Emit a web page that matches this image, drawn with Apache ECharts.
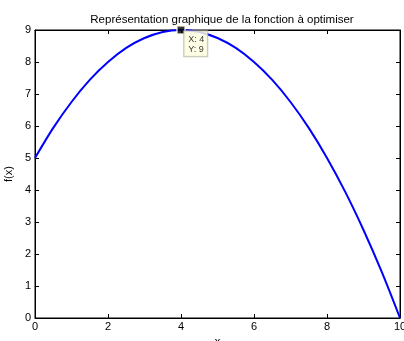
<!DOCTYPE html>
<html>
<head>
<meta charset="utf-8">
<script src="https://cdn.jsdelivr.net/npm/echarts@6/dist/echarts.min.js"></script>
<style>
  html, body { margin: 0; padding: 0; background: #fff; }
  #chart { width: 404px; height: 341px; }
</style>
</head>
<body>
<div id="chart"></div>
<script>
// Sampled values of f(x) on [0, 10]
const xValues = [0, 0.5, 1, 1.5, 2, 2.5, 3, 3.5, 4, 4.5, 5, 5.5, 6, 6.5, 7, 7.5, 8, 8.5, 9, 9.5, 10];
const fValues = [5, 5.94, 6.75, 7.44, 8, 8.44, 8.75, 8.94, 9, 8.94, 8.75, 8.44, 8, 7.44, 6.75, 5.94, 5, 3.94, 2.75, 1.44, 0];

// Highlighted maximum
const peakX = 4;
const peakY = 9;

const titleText = 'Représentation graphique de la fonction à optimiser';
const xName = 'x';
const yName = 'f(x)';

const font = 'Liberation Sans, Arial, Helvetica, sans-serif';

const chart = echarts.init(document.getElementById('chart'), null, { renderer: 'canvas' });

const curve = xValues.map((x, i) => [x, fValues[i]]);

const tickStyle = { show: true, inside: true, length: 4, lineStyle: { color: '#000', width: 1 } };
const lineStyle = { show: true, onZero: false, lineStyle: { color: '#000', width: 1 } };

chart.setOption({
  animation: false,
  backgroundColor: '#fff',
  title: {
    text: titleText,
    left: 217,
    top: 9,
    textAlign: 'center',
    textStyle: { fontFamily: font, fontSize: 11.5, fontWeight: 'normal', color: '#000' }
  },
  grid: {
    left: 35, right: 4, top: 30, bottom: 23,
    containLabel: false,
    outerBoundsMode: 'none',
    show: true, borderColor: '#000', borderWidth: 1, backgroundColor: '#fff'
  },
  xAxis: [
    {
      type: 'value', min: 0, max: 10, interval: 2, position: 'bottom',
      name: xName, nameLocation: 'middle', nameGap: 16,
      nameTextStyle: { fontFamily: font, fontSize: 11, color: '#000' },
      axisLine: lineStyle, axisTick: tickStyle,
      axisLabel: { fontFamily: font, fontSize: 11, color: '#000', margin: 3 },
      splitLine: { show: false }
    },
    {
      type: 'value', min: 0, max: 10, interval: 2, position: 'top',
      axisLine: lineStyle, axisTick: tickStyle,
      axisLabel: { show: false }, splitLine: { show: false }
    }
  ],
  yAxis: [
    {
      type: 'value', min: 0, max: 9, interval: 1, position: 'left',
      name: yName, nameLocation: 'middle', nameGap: 17, nameRotate: 90,
      nameTextStyle: { fontFamily: font, fontSize: 11, color: '#000' },
      axisLine: lineStyle, axisTick: tickStyle,
      axisLabel: { fontFamily: font, fontSize: 11, color: '#000', margin: 4 },
      splitLine: { show: false }
    },
    {
      type: 'value', min: 0, max: 9, interval: 1, position: 'right',
      axisLine: lineStyle, axisTick: tickStyle,
      axisLabel: { show: false }, splitLine: { show: false }
    }
  ],
  series: [
    {
      type: 'line',
      data: curve,
      smooth: 0.3,
      showSymbol: false,
      lineStyle: { color: '#0000ff', width: 2 },
      z: 2
    },
    {
      type: 'scatter',
      data: [[peakX, peakY]],
      symbol: 'rect',
      symbolSize: 8,
      itemStyle: { color: '#000', borderColor: '#ffffe1', borderWidth: 1.5 },
      label: {
        show: true,
        position: [8, 6],
        formatter: () => 'X: ' + peakX + '\nY: ' + peakY,
        fontFamily: font,
        fontSize: 9,
        lineHeight: 10,
        color: '#000',
        backgroundColor: '#ffffe1',
        borderColor: '#b0b0a0',
        borderWidth: 1,
        padding: [3, 3, 2, 4],
        align: 'left',
        verticalAlign: 'top'
      },
      z: 5
    }
  ]
});
</script>
</body>
</html>
